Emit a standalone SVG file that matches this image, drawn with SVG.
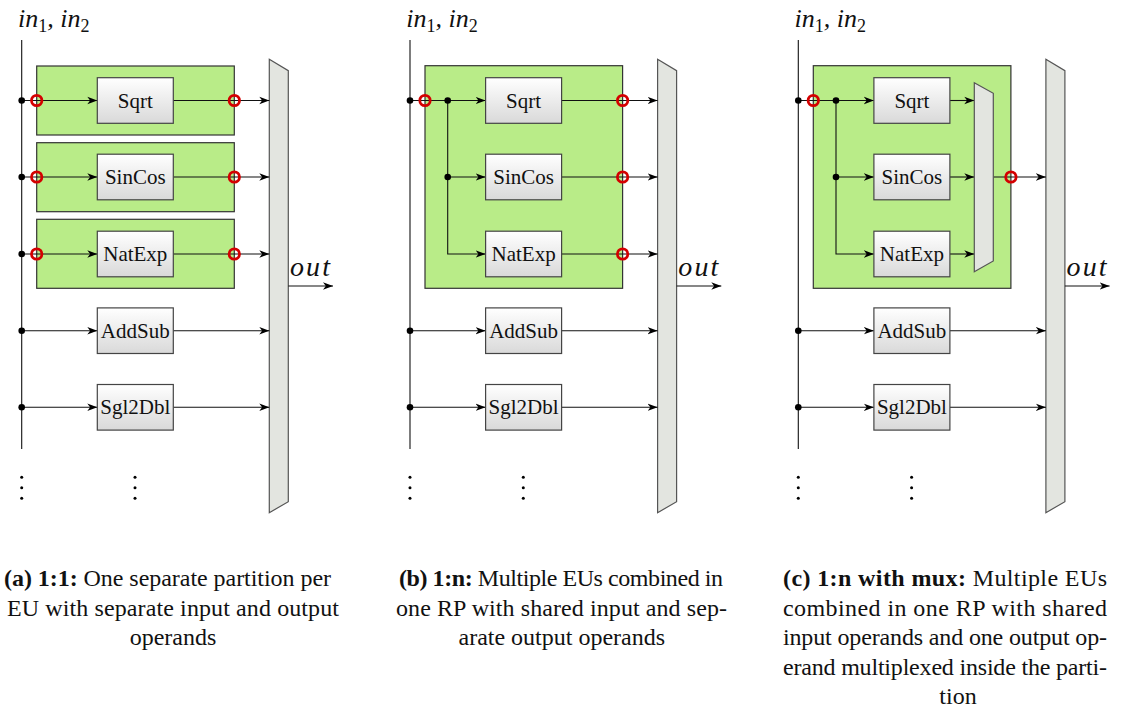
<svg xmlns="http://www.w3.org/2000/svg" width="1122" height="710" viewBox="0 0 1122 710" font-family="'Liberation Serif', 'Times New Roman', Times, 'DejaVu Serif', serif">
  <defs>
    <linearGradient id="euFill" x1="0" y1="0" x2="0" y2="1">
      <stop offset="0" stop-color="#ffffff"/>
      <stop offset="1" stop-color="#d9d9d9"/>
    </linearGradient>
    <marker id="arr" markerWidth="12" markerHeight="10" refX="10" refY="5" orient="auto" markerUnits="userSpaceOnUse">
      <path d="M0,1.3 L10,5 L0,8.7 L2.8,5 Z" fill="#000"/>
    </marker>
    <style>
      .rp { fill: #b9ec88; stroke: #333; stroke-width: 1.2; }
      .eu rect { fill: url(#euFill); stroke: #444; stroke-width: 1.2; }
      .eu text { font-size: 21px; text-anchor: middle; fill: #111; }
      .mux { fill: #e3e5e0; stroke: #555; stroke-width: 1.2; }
      .wire { fill: none; stroke: #111; stroke-width: 1.1; }
      .arrow { fill: none; stroke: #111; stroke-width: 1.1; marker-end: url(#arr); }
      .port { fill: none; stroke: #d40000; stroke-width: 2.8; }
      .dot { fill: #000; }
      .edot { fill: #000; }
      .lbl { font-style: italic; font-size: 26px; fill: #111; }
      .sub { font-style: normal; font-size: 18px; }
      .out { font-style: italic; font-size: 28px; fill: #111; }
      .cap { font-size: 24px; fill: #111; }
      .b { font-weight: bold; }
    </style>
  </defs>
  <rect width="1122" height="710" fill="#ffffff"/>

  <!-- ===== (a) 1:1 ===== -->
  <g id="panel-a">
    <g id="a-rp1"><rect class="rp" x="36.7" y="66" width="197.6" height="69"/></g>
    <g id="a-rp2"><rect class="rp" x="36.7" y="142.7" width="197.6" height="69"/></g>
    <g id="a-rp3"><rect class="rp" x="36.7" y="219.3" width="197.6" height="69"/></g>
    <g id="a-outmux"><polygon class="mux" points="269.3,59.3 288.3,70.7 288.3,501.7 269.3,512.7"/></g>

    <g id="a-connectors">
      <line class="wire" x1="21.7" y1="40" x2="21.7" y2="449"/>
      <line class="arrow" x1="21.7" y1="100.5" x2="97.3" y2="100.5"/>
      <line class="arrow" x1="21.7" y1="177" x2="97.3" y2="177"/>
      <line class="arrow" x1="21.7" y1="254" x2="97.3" y2="254"/>
      <line class="arrow" x1="21.7" y1="330.7" x2="97.3" y2="330.7"/>
      <line class="arrow" x1="21.7" y1="407.3" x2="97.3" y2="407.3"/>
      <line class="arrow" x1="173.3" y1="100.5" x2="269.3" y2="100.5"/>
      <line class="arrow" x1="173.3" y1="177" x2="269.3" y2="177"/>
      <line class="arrow" x1="173.3" y1="254" x2="269.3" y2="254"/>
      <line class="arrow" x1="173.3" y1="330.7" x2="269.3" y2="330.7"/>
      <line class="arrow" x1="173.3" y1="407.3" x2="269.3" y2="407.3"/>
      <line class="arrow" x1="288.3" y1="286" x2="333" y2="286"/>
    </g>

    <g id="a-sqrt" class="eu"><rect x="97.3" y="77.7" width="76" height="45.6"/><text x="135.3" y="107.5">Sqrt</text></g>
    <g id="a-sincos" class="eu"><rect x="97.3" y="154.2" width="76" height="45.6"/><text x="135.3" y="184">SinCos</text></g>
    <g id="a-natexp" class="eu"><rect x="97.3" y="231.2" width="76" height="45.6"/><text x="135.3" y="261">NatExp</text></g>
    <g id="a-addsub" class="eu"><rect x="97.3" y="307.9" width="76" height="45.6"/><text x="135.3" y="337.7">AddSub</text></g>
    <g id="a-sgl2dbl" class="eu"><rect x="97.3" y="384.5" width="76" height="45.6"/><text x="135.3" y="414.3">Sgl2Dbl</text></g>

    <g id="a-ports">
      <circle class="dot" cx="21.7" cy="100.5" r="3.3"/>
      <circle class="dot" cx="21.7" cy="177" r="3.3"/>
      <circle class="dot" cx="21.7" cy="254" r="3.3"/>
      <circle class="dot" cx="21.7" cy="330.7" r="3.3"/>
      <circle class="dot" cx="21.7" cy="407.3" r="3.3"/>
      <circle class="port" cx="36.7" cy="100.5" r="5.2"/>
      <circle class="port" cx="36.7" cy="177" r="5.2"/>
      <circle class="port" cx="36.7" cy="254" r="5.2"/>
      <circle class="port" cx="234.3" cy="100.5" r="5.2"/>
      <circle class="port" cx="234.3" cy="177" r="5.2"/>
      <circle class="port" cx="234.3" cy="254" r="5.2"/>
    </g>

    <g id="a-ellipsis">
      <circle class="edot" cx="21.7" cy="477.3" r="1.5"/><circle class="edot" cx="21.7" cy="487.8" r="1.5"/><circle class="edot" cx="21.7" cy="498.3" r="1.5"/>
      <circle class="edot" cx="135" cy="477.3" r="1.5"/><circle class="edot" cx="135" cy="487.8" r="1.5"/><circle class="edot" cx="135" cy="498.3" r="1.5"/>
    </g>

    <text class="lbl" x="18" y="27">in<tspan class="sub" dy="5">1</tspan><tspan dy="-5">, in</tspan><tspan class="sub" dy="5">2</tspan></text>
    <text class="out" x="290" y="276" textLength="40" lengthAdjust="spacing">out</text>

    <text class="cap" x="4" y="586" textLength="327" lengthAdjust="spacing"><tspan class="b">(a) 1:1:</tspan> One separate partition per</text>
    <text class="cap" x="7" y="615.5" textLength="332" lengthAdjust="spacing">EU with separate input and output</text>
    <text class="cap" x="173" y="645" text-anchor="middle">operands</text>
  </g>

  <!-- ===== (b) 1:n ===== -->
  <g id="panel-b" transform="translate(388.3,0)">
    <g id="b-rp"><rect class="rp" x="36.7" y="65.7" width="197.6" height="222.6"/></g>
    <g id="b-outmux"><polygon class="mux" points="269.3,59.3 288.3,70.7 288.3,501.7 269.3,512.7"/></g>

    <g id="b-connectors">
      <line class="wire" x1="21.7" y1="40" x2="21.7" y2="449"/>
      <line class="arrow" x1="21.7" y1="100.5" x2="97.3" y2="100.5"/>
      <path class="arrow" d="M59.4,100.5 V254 H97.3"/>
      <line class="arrow" x1="59.4" y1="177" x2="97.3" y2="177"/>
      <line class="arrow" x1="21.7" y1="330.7" x2="97.3" y2="330.7"/>
      <line class="arrow" x1="21.7" y1="407.3" x2="97.3" y2="407.3"/>
      <line class="arrow" x1="173.3" y1="100.5" x2="269.3" y2="100.5"/>
      <line class="arrow" x1="173.3" y1="177" x2="269.3" y2="177"/>
      <line class="arrow" x1="173.3" y1="254" x2="269.3" y2="254"/>
      <line class="arrow" x1="173.3" y1="330.7" x2="269.3" y2="330.7"/>
      <line class="arrow" x1="173.3" y1="407.3" x2="269.3" y2="407.3"/>
      <line class="arrow" x1="288.3" y1="286" x2="333" y2="286"/>
    </g>

    <g id="b-sqrt" class="eu"><rect x="97.3" y="77.7" width="76" height="45.6"/><text x="135.3" y="107.5">Sqrt</text></g>
    <g id="b-sincos" class="eu"><rect x="97.3" y="154.2" width="76" height="45.6"/><text x="135.3" y="184">SinCos</text></g>
    <g id="b-natexp" class="eu"><rect x="97.3" y="231.2" width="76" height="45.6"/><text x="135.3" y="261">NatExp</text></g>
    <g id="b-addsub" class="eu"><rect x="97.3" y="307.9" width="76" height="45.6"/><text x="135.3" y="337.7">AddSub</text></g>
    <g id="b-sgl2dbl" class="eu"><rect x="97.3" y="384.5" width="76" height="45.6"/><text x="135.3" y="414.3">Sgl2Dbl</text></g>

    <g id="b-ports">
      <circle class="dot" cx="21.7" cy="100.5" r="3.3"/>
      <circle class="dot" cx="21.7" cy="330.7" r="3.3"/>
      <circle class="dot" cx="21.7" cy="407.3" r="3.3"/>
      <circle class="dot" cx="59.4" cy="100.5" r="3.3"/>
      <circle class="dot" cx="59.4" cy="177" r="3.3"/>
      <circle class="port" cx="36.7" cy="100.5" r="5.2"/>
      <circle class="port" cx="234.3" cy="100.5" r="5.2"/>
      <circle class="port" cx="234.3" cy="177" r="5.2"/>
      <circle class="port" cx="234.3" cy="254" r="5.2"/>
    </g>

    <g id="b-ellipsis">
      <circle class="edot" cx="21.7" cy="477.3" r="1.5"/><circle class="edot" cx="21.7" cy="487.8" r="1.5"/><circle class="edot" cx="21.7" cy="498.3" r="1.5"/>
      <circle class="edot" cx="135" cy="477.3" r="1.5"/><circle class="edot" cx="135" cy="487.8" r="1.5"/><circle class="edot" cx="135" cy="498.3" r="1.5"/>
    </g>

    <text class="lbl" x="18" y="27">in<tspan class="sub" dy="5">1</tspan><tspan dy="-5">, in</tspan><tspan class="sub" dy="5">2</tspan></text>
    <text class="out" x="290" y="276" textLength="40" lengthAdjust="spacing">out</text>

    <text class="cap" x="10.7" y="586" textLength="324" lengthAdjust="spacing"><tspan class="b">(b) 1:n:</tspan> Multiple EUs combined in</text>
    <text class="cap" x="7.7" y="615.5" textLength="331" lengthAdjust="spacing">one RP with shared input and sep-</text>
    <text class="cap" x="173.5" y="645" text-anchor="middle">arate output operands</text>
  </g>

  <!-- ===== (c) 1:n with mux ===== -->
  <g id="panel-c" transform="translate(776.6,0)">
    <g id="c-rp"><rect class="rp" x="36.7" y="65.7" width="197.6" height="222.6"/></g>
    <g id="c-outmux"><polygon class="mux" points="269.3,59.3 288.3,70.7 288.3,501.7 269.3,512.7"/></g>

    <g id="c-connectors">
      <line class="wire" x1="21.7" y1="40" x2="21.7" y2="449"/>
      <line class="arrow" x1="21.7" y1="100.5" x2="97.3" y2="100.5"/>
      <path class="arrow" d="M59.4,100.5 V254 H97.3"/>
      <line class="arrow" x1="59.4" y1="177" x2="97.3" y2="177"/>
      <line class="arrow" x1="21.7" y1="330.7" x2="97.3" y2="330.7"/>
      <line class="arrow" x1="21.7" y1="407.3" x2="97.3" y2="407.3"/>
      <line class="arrow" x1="173.3" y1="100.5" x2="197.7" y2="100.5"/>
      <line class="arrow" x1="173.3" y1="177" x2="197.7" y2="177"/>
      <line class="arrow" x1="173.3" y1="254" x2="197.7" y2="254"/>
      <line class="arrow" x1="216.7" y1="177" x2="269.3" y2="177"/>
      <line class="arrow" x1="173.3" y1="330.7" x2="269.3" y2="330.7"/>
      <line class="arrow" x1="173.3" y1="407.3" x2="269.3" y2="407.3"/>
      <line class="arrow" x1="288.3" y1="286" x2="333" y2="286"/>
    </g>

    <g id="c-innermux"><polygon class="mux" points="197.7,82.7 216.7,93.3 216.7,261 197.7,271.7"/></g>

    <g id="c-sqrt" class="eu"><rect x="97.3" y="77.7" width="76" height="45.6"/><text x="135.3" y="107.5">Sqrt</text></g>
    <g id="c-sincos" class="eu"><rect x="97.3" y="154.2" width="76" height="45.6"/><text x="135.3" y="184">SinCos</text></g>
    <g id="c-natexp" class="eu"><rect x="97.3" y="231.2" width="76" height="45.6"/><text x="135.3" y="261">NatExp</text></g>
    <g id="c-addsub" class="eu"><rect x="97.3" y="307.9" width="76" height="45.6"/><text x="135.3" y="337.7">AddSub</text></g>
    <g id="c-sgl2dbl" class="eu"><rect x="97.3" y="384.5" width="76" height="45.6"/><text x="135.3" y="414.3">Sgl2Dbl</text></g>

    <g id="c-ports">
      <circle class="dot" cx="21.7" cy="100.5" r="3.3"/>
      <circle class="dot" cx="21.7" cy="330.7" r="3.3"/>
      <circle class="dot" cx="21.7" cy="407.3" r="3.3"/>
      <circle class="dot" cx="59.4" cy="100.5" r="3.3"/>
      <circle class="dot" cx="59.4" cy="177" r="3.3"/>
      <circle class="port" cx="36.7" cy="100.5" r="5.2"/>
      <circle class="port" cx="234.3" cy="177" r="5.2"/>
    </g>

    <g id="c-ellipsis">
      <circle class="edot" cx="21.7" cy="477.3" r="1.5"/><circle class="edot" cx="21.7" cy="487.8" r="1.5"/><circle class="edot" cx="21.7" cy="498.3" r="1.5"/>
      <circle class="edot" cx="135" cy="477.3" r="1.5"/><circle class="edot" cx="135" cy="487.8" r="1.5"/><circle class="edot" cx="135" cy="498.3" r="1.5"/>
    </g>

    <text class="lbl" x="18" y="27">in<tspan class="sub" dy="5">1</tspan><tspan dy="-5">, in</tspan><tspan class="sub" dy="5">2</tspan></text>
    <text class="out" x="290" y="276" textLength="40" lengthAdjust="spacing">out</text>

    <text class="cap" x="6.4" y="586" textLength="324" lengthAdjust="spacing"><tspan class="b">(c) 1:n with mux:</tspan> Multiple EUs</text>
    <text class="cap" x="6.4" y="615.5" textLength="324" lengthAdjust="spacing">combined in one RP with shared</text>
    <text class="cap" x="6.4" y="645" textLength="324" lengthAdjust="spacing">input operands and one output op-</text>
    <text class="cap" x="6.4" y="674.5" textLength="324" lengthAdjust="spacing">erand multiplexed inside the parti-</text>
    <text class="cap" x="181.4" y="704" text-anchor="middle">tion</text>
  </g>
</svg>
